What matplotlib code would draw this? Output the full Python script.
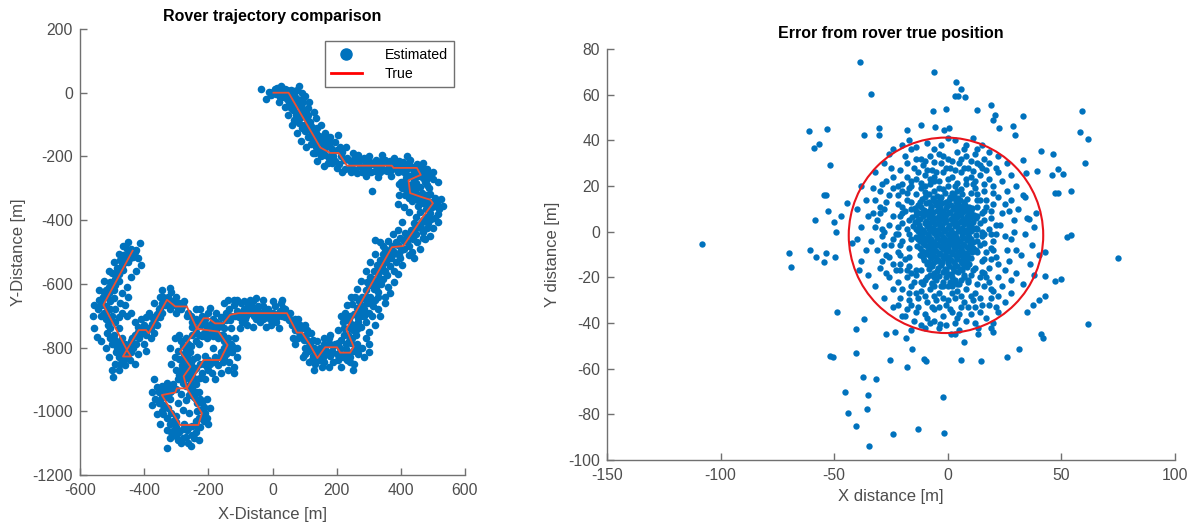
import numpy as np
import matplotlib
matplotlib.use("Agg")
import matplotlib.pyplot as plt
from matplotlib.patches import Circle
from matplotlib.lines import Line2D

plt.rcParams['font.family'] = ['Liberation Sans', 'DejaVu Sans']
plt.rcParams['axes.unicode_minus'] = False

BLUE = '#0072BD'
GRAY = '#4D4D4D'

# ---------------- Left panel data ----------------
true_x = [3, 50, 149, 180, 206, 232, 372, 377, 450, 462, 424, 429, 466, 492, 500, 466, 408, 372,
          230, 253, 242, 211, 201, 164, 140, 117, 92, 76, 45, -106, -132, -153, -179, -200, -215,
          -236, -168, -140, -163, -215, -267, -298, -303, -345, -288, -231, -220, -267, -277, -256,
          -288, -260, -236, -267, -303, -329, -386, -394, -417, -454, -466, -441, -454, -527, -436]
true_y = [0, 0, -172, -189, -189, -229, -229, -236, -236, -258, -275, -315, -328, -336, -347, -394,
          -481, -485, -742, -797, -816, -816, -799, -799, -833, -792, -753, -753, -692, -692, -697,
          -724, -724, -708, -708, -741, -750, -792, -839, -839, -928, -928, -941, -949, -1043, -1043,
          -1006, -928, -890, -860, -813, -775, -741, -671, -671, -650, -755, -745, -745, -807, -828,
          -828, -807, -666, -496]

est_ne1 = [(-35, 12), (-5, -8), (2, 3), (10, -5), (18, 8), (24, -12), (33, 2), (40, 12), (50, -4), (58, 8),
           (82, 22), (68, -5), (44, -20), (52, -30), (60, -22), (70, -40), (78, -30), (64, -55), (85, -58),
           (96, -30), (72, -70), (90, -75), (100, -55), (110, -48), (84, -95), (98, -100), (106, -80),
           (118, -92), (128, -60), (102, -120), (116, -118), (124, -108), (136, -125), (110, -140),
           (130, -145), (142, -150), (120, -160), (150, -140), (158, -160), (136, -170), (148, -182),
           (160, -178), (170, -165), (165, -195), (182, -175), (190, -200), (176, -205), (200, -180),
           (210, -170), (195, -215), (215, -200), (224, -210), (208, -225), (225, -240), (240, -215),
           (203, -132), (30, -14), (14, 14), (56, -12), (74, -18), (88, -44), (62, -38), (94, -64),
           (112, -70), (104, -104), (122, -130), (140, -110), (154, -192), (186, -190), (218, -186),
           (8, 12), (-12, 2), (36, -6), (46, 8), (28, 20), (66, 4), (76, 10), (92, 0), (86, -22), (58, -48),
           (80, -84), (66, -86), (92, -112), (126, -150), (112, -100), (144, -135), (134, -190), (162, -145),
           (180, -155), (150, -200), (172, -220), (200, -235), (186, -222), (218, -250), (232, -205), (246, -250)]
est_ne2 = [(240, -235), (250, -222), (258, -244), (266, -218), (274, -230), (282, -240), (290, -220),
           (298, -232), (306, -248), (314, -224), (322, -212), (330, -236), (338, -226), (346, -244),
           (354, -218), (362, -232), (370, -242), (378, -222), (386, -236), (394, -214), (402, -246),
           (410, -228), (418, -240), (426, -220), (434, -232), (442, -250), (450, -224), (458, -244),
           (466, -232), (474, -252), (480, -240), (262, -252), (286, -206), (318, -246), (350, -210),
           (398, -230), (430, -212), (446, -236), (270, -214), (302, -214), (334, -250), (366, -214),
           (414, -252), (438, -238), (310, -310), (255, -208), (280, -250), (296, -250), (326, -222),
           (342, -210), (358, -246), (374, -230), (390, -250), (406, -218), (422, -230), (454, -256),
           (470, -222), (486, -252), (490, -262), (478, -275)]
est_e = [(470, -268), (455, -262), (440, -270), (428, -262), (412, -280), (420, -290), (436, -288),
         (448, -282), (405, -300), (418, -305), (430, -300), (444, -310), (412, -320), (426, -330),
         (440, -322), (452, -336), (465, -316), (478, -322), (490, -318), (505, -330), (470, -345),
         (485, -350), (498, -360), (512, -345), (520, -365), (478, -365), (492, -378), (505, -392),
         (455, -355), (460, -375), (448, -390), (470, -400), (485, -410), (440, -410), (455, -420),
         (432, -432), (448, -445), (470, -438), (420, -450), (438, -460), (410, -465), (425, -480),
         (400, -495), (385, -470), (360, -465), (345, -480), (395, -510), (380, -500), (365, -495),
         (500, -270), (480, -290), (395, -285), (488, -300), (515, -380), (475, -460), (450, -470),
         (435, -500), (400, -280), (403, -407), (320, -462), (335, -470), (390, -430), (375, -445),
         (460, -295), (474, -280), (496, -342), (462, -410), (418, -470), (415, -268), (408, -290),
         (424, -315), (434, -340), (446, -298), (458, -325), (470, -330), (482, -338), (508, -355),
         (494, -395), (478, -390), (462, -425), (444, -425), (428, -445), (412, -440), (396, -455),
         (410, -490), (390, -478), (372, -480), (352, -490), (482, -425), (468, -455)]
est_se = [(360, -500), (345, -505), (370, -520), (355, -530), (335, -525), (340, -548), (325, -540),
          (365, -545), (350, -560), (330, -570), (315, -560), (345, -585), (320, -590), (305, -580),
          (338, -600), (300, -605), (315, -615), (290, -620), (328, -625), (305, -640), (280, -640),
          (318, -650), (295, -660), (270, -655), (285, -680), (262, -675), (300, -690), (275, -700),
          (255, -695), (240, -700), (265, -720), (245, -725), (230, -715), (250, -745), (235, -760),
          (222, -740), (260, -760), (275, -735), (290, -720), (310, -700), (330, -680), (350, -640),
          (360, -610), (380, -560), (385, -530), (398, -520), (258, -640), (248, -662), (226, -690),
          (220, -720), (238, -780), (352, -515), (312, -585), (296, -640), (270, -690), (242, -740),
          (375, -505), (362, -518), (342, -532), (328, -552), (358, -572), (334, -585), (318, -600),
          (295, -595), (330, -640), (312, -668), (288, -648), (278, -668), (268, -708), (255, -730),
          (238, -710), (222, -760), (262, -742), (248, -770), (285, -700), (302, -660), (322, -612),
          (346, -560)]
est_s = [(262, -790), (250, -810), (268, -820), (240, -830), (255, -850), (228, -805), (220, -830),
         (210, -800), (195, -790), (200, -820), (185, -810), (175, -785), (160, -790), (170, -815),
         (150, -815), (145, -840), (132, -850), (155, -860), (125, -825), (138, -810), (120, -805),
         (110, -780), (100, -800), (125, -775), (105, -760), (92, -740), (80, -770), (70, -745),
         (85, -730), (60, -730), (50, -715), (70, -710), (40, -705), (55, -690), (90, -765),
         (300, -790), (280, -800), (190, -845), (175, -770), (215, -775), (245, -785), (115, -845),
         (65, -770), (232, -818), (148, -800), (112, -810), (258, -805), (242, -845), (230, -790),
         (215, -820), (205, -840), (188, -795), (180, -825), (165, -800), (158, -830), (140, -825),
         (130, -800), (118, -790), (98, -775), (108, -745), (84, -752), (75, -728), (62, -712),
         (48, -700), (36, -690), (100, -820), (122, -840), (162, -845), (205, -785), (270, -805),
         (232, -840)]
est_w1 = [(40, -680), (30, -700), (22, -685), (15, -705), (8, -670), (0, -690), (-8, -710), (-15, -680),
          (-22, -695), (-30, -670), (-38, -700), (-45, -685), (-52, -710), (-60, -675), (-68, -690),
          (-75, -665), (-82, -700), (-90, -680), (-98, -660), (-105, -705), (-112, -685), (-120, -665),
          (-128, -700), (-136, -680), (-88, -655), (-70, -652), (-120, -650), (-5, -730), (-40, -720),
          (-95, -720), (10, -720), (25, -660), (-150, -660), (-142, -700), (-56, -694), (-26, -706),
          (34, -676), (18, -696), (4, -702), (-12, -698), (-28, -688), (-44, -670), (-58, -700),
          (-74, -682), (-86, -710), (-102, -690), (-116, -700), (-132, -715), (-146, -690),
          (-60, -655), (-110, -650), (-30, -710), (-80, -675)]
est_w2 = [(-145, -715), (-160, -705), (-150, -740), (-170, -735), (-185, -710), (-190, -740), (-200, -690),
          (-210, -725), (-220, -700), (-228, -720), (-240, -710), (-245, -735), (-230, -760), (-215, -755),
          (-200, -760), (-185, -765), (-170, -770), (-155, -760), (-140, -770), (-130, -790), (-150, -800),
          (-125, -815), (-145, -820), (-160, -815), (-135, -845), (-155, -845), (-170, -855), (-180, -830),
          (-195, -850), (-210, -825), (-225, -850), (-205, -860), (-235, -830), (-240, -865), (-220, -880),
          (-250, -885), (-235, -900), (-255, -910), (-120, -860), (-118, -770), (-128, -740), (-175, -690),
          (-195, -675), (-225, -680), (-160, -880), (-190, -880), (-185, -800), (-230, -790), (-165, -725),
          (-205, -740), (-180, -750), (-160, -730), (-176, -720), (-192, -725), (-210, -710), (-222, -730),
          (-238, -750), (-250, -735), (-140, -790), (-135, -805), (-150, -780), (-160, -760), (-175, -755),
          (-190, -755), (-205, -770), (-220, -765), (-240, -780), (-215, -850), (-200, -840), (-180, -845),
          (-165, -830), (-150, -835), (-140, -815), (-125, -795), (-245, -870), (-225, -895), (-240, -915),
          (-200, -870)]
est_w3 = [(-250, -760), (-270, -770), (-262, -790), (-280, -795), (-295, -810), (-275, -820), (-290, -835),
          (-268, -840), (-282, -855), (-260, -870), (-275, -875), (-290, -885), (-265, -895), (-280, -910),
          (-295, -900), (-300, -870), (-305, -830), (-248, -835), (-258, -815), (-285, -780),
          (-255, -795), (-270, -805), (-265, -825), (-280, -840), (-255, -850), (-270, -860), (-285, -870),
          (-270, -885), (-255, -895), (-285, -900), (-270, -920), (-250, -930), (-230, -940)]
est_hex = [(-310, -915), (-325, -925), (-340, -930), (-355, -940), (-335, -955), (-350, -965), (-320, -960),
           (-340, -980), (-325, -990), (-345, -1000), (-315, -1005), (-330, -1020), (-310, -1030),
           (-300, -1050), (-290, -1065), (-275, -1040), (-265, -1060), (-250, -1045), (-240, -1065),
           (-225, -1050), (-215, -1030), (-230, -1020), (-210, -1005), (-225, -995), (-215, -985),
           (-235, -975), (-225, -960), (-245, -955), (-240, -940), (-255, -935), (-250, -918), (-285, -945),
           (-270, -965), (-295, -975), (-280, -995), (-260, -1005), (-300, -1015), (-370, -900),
           (-330, -1115), (-262, -1100), (-278, -1085), (-300, -1078), (-285, -1100), (-245, -1085),
           (-360, -925), (-365, -960), (-235, -1000), (-318, -940), (-308, -1060), (-300, -930),
           (-315, -935), (-330, -945), (-345, -950), (-355, -975), (-340, -1010), (-320, -1040),
           (-300, -1035), (-280, -1055), (-260, -1050), (-235, -1045), (-215, -1015), (-205, -1020),
           (-220, -975), (-240, -960), (-260, -950), (-250, -1075), (-270, -1080), (-315, -1065),
           (-295, -1090), (-345, -920), (-330, -910), (-238, -1030)]
est_nw = [(-250, -720), (-255, -700), (-240, -680), (-262, -690), (-275, -655), (-285, -680), (-290, -660),
          (-300, -690), (-310, -655), (-318, -680), (-325, -640), (-335, -665), (-340, -640), (-345, -690),
          (-355, -680), (-350, -705), (-365, -710), (-360, -730), (-375, -725), (-370, -755), (-385, -740),
          (-380, -770), (-395, -760), (-400, -730), (-410, -755), (-420, -735), (-415, -770), (-430, -760),
          (-425, -790), (-440, -780), (-435, -800), (-448, -795), (-460, -790), (-450, -815), (-470, -810),
          (-462, -835), (-445, -840), (-480, -830), (-475, -850), (-500, -870), (-497, -891), (-485, -800),
          (-490, -775), (-470, -770), (-495, -760), (-480, -740), (-505, -740), (-490, -720), (-510, -715),
          (-500, -700), (-520, -690), (-535, -700), (-545, -680), (-556, -666), (-547, -766), (-530, -650),
          (-515, -640), (-525, -625), (-510, -610), (-495, -620), (-505, -595), (-490, -585), (-500, -565),
          (-480, -570), (-485, -550), (-470, -545), (-475, -525), (-460, -530), (-465, -510), (-450, -505),
          (-445, -520), (-440, -490), (-430, -500), (-414, -472), (-455, -490), (-320, -614), (-316, -624),
          (-300, -640), (-505, -655), (-470, -690), (-455, -700), (-480, -705), (-520, -670), (-512, -730),
          (-265, -700), (-280, -665), (-295, -675), (-305, -665), (-320, -660), (-330, -650), (-345, -660),
          (-350, -675), (-360, -695), (-375, -705), (-378, -740), (-392, -745), (-405, -740), (-418, -750),
          (-425, -760), (-438, -770), (-445, -790), (-458, -805), (-468, -820), (-452, -830), (-440, -815),
          (-470, -800), (-488, -815), (-478, -785), (-500, -790), (-505, -770), (-515, -755), (-520, -710),
          (-525, -690), (-535, -665), (-540, -650), (-528, -640), (-518, -620), (-510, -630), (-498, -600),
          (-492, -605), (-480, -590), (-488, -565), (-475, -560), (-465, -555), (-470, -535), (-455, -520),
          (-450, -530), (-440, -505), (-435, -515), (-425, -495), (-490, -680), (-475, -660), (-495, -645),
          (-505, -680), (-510, -830), (-490, -850), (-460, -855)]
est_wide = [(-20, -20), (20, -30), (38, -45), (48, -70), (60, -100), (75, -125), (90, -150), (105, -170),
            (125, -190), (140, -215), (160, -230), (100, -10), (115, -30), (135, -80), (150, -100),
            (165, -125), (178, -140), (195, -155), (230, -170), (250, -190),
            (265, -195), (300, -200), (340, -196), (380, -205), (420, -200), (290, -262), (330, -265),
            (370, -262), (500, -250), (515, -280),
            (395, -320), (390, -350), (410, -360), (425, -375), (525, -335), (530, -355), (515, -405),
            (500, -425), (490, -450), (460, -490), (440, -520), (425, -510),
            (405, -540), (392, -570), (378, -595), (365, -630), (350, -660), (335, -700), (318, -730),
            (300, -750), (290, -770), (320, -505), (305, -530), (290, -560), (275, -590), (262, -615),
            (245, -640), (232, -665), (215, -700), (205, -745),
            (180, -760), (160, -770), (140, -780), (120, -755), (100, -730), (80, -710), (70, -790),
            (95, -830), (130, -870), (175, -860), (215, -860), (250, -870), (285, -830), (300, -815),
            (30, -650), (0, -655), (-30, -650), (-50, -645), (20, -740), (-20, -735), (-60, -735),
            (-80, -730), (-100, -740), (-140, -650),
            (-110, -800), (-110, -830), (-120, -880), (-140, -870), (-180, -900), (-210, -900),
            (-315, -850), (-320, -800), (-305, -770), (-290, -760),
            (-375, -940), (-375, -980), (-360, -1010), (-350, -1040), (-330, -1060), (-320, -1085),
            (-200, -1040), (-195, -990), (-205, -960), (-230, -1090), (-255, -1110),
            (-560, -700), (-555, -740), (-540, -620), (-525, -590), (-510, -560), (-495, -530),
            (-480, -505), (-465, -480), (-450, -470), (-420, -520), (-410, -540), (-425, -560),
            (-440, -580), (-455, -610), (-470, -630), (-450, -640), (-460, -665), (-440, -690),
            (-430, -720), (-400, -790), (-395, -810), (-420, -820), (-430, -850), (-480, -870),
            (-520, -800), (-535, -780), (-350, -640), (-345, -620), (-370, -660), (-385, -690),
            (-395, -705), (-410, -710)]

# ---------------- Right panel data ----------------
err_outer = [(-38.8, 74.4), (-6.1, 70.0), (-33.8, 60.2), (3.8, 65.6), (5.6, 62.4), (3.0, 59.5), (4.3, 59.5),
             (7.4, 58.8), (-0.6, 53.9), (-6.5, 52.7), (12.9, 53.5), (19.0, 55.4), (20.8, 51.3), (19.9, 48.8),
             (33.3, 50.5), (58.9, 52.9), (22.7, 45.4), (28.5, 46.3), (29.4, 42.2), (58.0, 43.6), (61.7, 40.7),
             (60.2, 30.0), (41.0, 35.3), (46.5, 34.1), (48.3, 27.5), (50.7, 25.3), (45.7, 24.6), (33.3, 31.2),
             (39.1, 26.4), (34.2, 25.6), (47.0, 17.0), (48.3, 16.8), (54.2, 17.7), (34.0, 15.1), (35.9, 5.5),
             (52.3, -2.5), (54.2, -1.5), (42.8, -8.7), (42.8, -19.4), (49.8, -20.8), (47.4, -21.6),
             (61.7, -40.3), (41.0, -45.0), (41.9, -46.5), (31.4, -51.3), (26.0, -55.0), (14.4, -56.8),
             (5.6, -56.3), (7.1, -48.3), (3.0, -44.7), (-2.1, -72.2), (-1.5, -88.0), (-13.1, -86.4),
             (-24.1, -88.7), (-34.5, -93.8), (-35.4, -77.6), (-31.4, -64.5), (-37.3, -63.6), (-45.2, -70.0),
             (-35.1, -71.4), (-43.9, -79.2), (-40.6, -85.0), (-18.0, -59.3), (-25.4, -56.0), (-40.6, -53.1),
             (-52.0, -54.6), (-50.7, -54.8), (-15.8, -51.3), (-10.3, -55.7), (-9.4, -56.8), (-40.6, -42.5),
             (-36.9, -38.4), (-48.8, -35.1), (-27.2, -44.6), (-23.2, -44.0), (-18.2, -46.5), (-108.4, -5.5),
             (-69.9, -9.4), (-69.0, -15.3), (-60.7, -8.0), (-58.0, -11.0), (-53.4, -9.4), (-54.3, -13.5),
             (-49.7, -10.9), (-58.5, 5.2), (-52.9, 8.9), (-50.3, 4.1), (-49.2, 0.0), (-47.0, 7.0),
             (-54.3, 16.2), (-53.4, 15.9), (-61.1, 44.1), (-53.2, 45.0), (-58.9, 36.8), (-56.5, 38.2),
             (-52.0, 29.4), (-36.9, 42.3), (-30.1, 45.6), (-30.5, 42.3), (-18.0, 44.7), (-11.6, 46.7),
             (-5.6, 45.8), (-44.2, 12.7), (74.9, -11.6), (19.0, -42.4), (19.9, -43.9), (13.5, -42.4),
             (13.1, -45.0), (1.2, -44.6), (-3.4, -40.6), (0.5, 45.5), (-1.5, 44.5), (37.5, -32.0),
             (35.0, -35.0), (43.0, -28.0), (40.0, -30.0)]
err_ring = [(-24, 36), (-20, 38), (-14, 37), (-9, 39), (-3, 38), (3, 40), (8, 38), (13, 36), (18, 35), (22, 33),
            (26, 30), (-28, 30), (-32, 26), (-26, 34), (0, 41), (-17, 40), (11, 41), (28, 25), (30, 20),
            (33, 16), (31, 10), (35, 6), (38, 2), (34, -1), (37, -6), (32, -10), (36, -14), (30, -18),
            (33, -23), (28, -27), (25, -31), (38, -19), (40, -10), (39, 8), (29, 0), (22, -35), (17, -38),
            (12, -40), (8, -39), (3, -40), (-1, -41), (-6, -39), (-10, -42), (-15, -39), (-20, -37),
            (-24, -33), (-28, -29), (-16, -43), (5, -43), (20, -40), (-32, -24), (-35, -19), (-38, -13),
            (-36, -8), (-40, -3), (-38, 2), (-35, 7), (-40, 10), (-36, 14), (-33, 19), (-38, 20), (-30, -16),
            (-42, -5), (-39, -17)]
err_mid = [(-20, 18), (-16, 20), (-12, 19), (-8, 21), (-4, 19), (0, 20), (4, 18), (8, 21), (12, 19), (16, 18),
           (20, 20), (-18, 24), (-14, 23), (-10, 25), (-6, 24), (-2, 26), (2, 24), (6, 26), (10, 24), (14, 25),
           (18, 23), (-15, 28), (-11, 29), (-7, 27), (-3, 30), (1, 28), (5, 30), (9, 28), (13, 30), (17, 27),
           (22, 26), (-8, 33), (-4, 34), (0, 32), (4, 35), (8, 33), (12, 34), (-12, 32), (16, 32),
           (-18, -20), (-14, -19), (-10, -21), (-6, -20), (-2, -22), (2, -20), (6, -21), (10, -19), (14, -20),
           (18, -22), (-20, -25), (-16, -24), (-12, -26), (-8, -25), (-4, -27), (0, -24), (4, -26), (8, -25),
           (12, -27), (16, -24), (20, -26), (-17, -30), (-13, -29), (-9, -31), (-5, -30), (-1, -32), (3, -29),
           (7, -31), (11, -30), (15, -32), (19, -29), (-14, -35), (-10, -36), (-6, -34), (-2, -37), (2, -35),
           (6, -33), (10, -36), (-18, -34), (14, -35), (-8, -40), (-4, -42), (-12, -41),
           (-18, 14), (-22, 12), (-19, 9), (-24, 7), (-20, 4), (-26, 3), (-18, 1), (-23, -1), (-20, -4),
           (-25, -6), (-17, -7), (-22, -9), (-19, -12), (-24, -14), (-17, -15), (-28, 10), (-29, -2),
           (-27, -10), (-31, 5), (-32, 14), (-30, 18), (-26, 16), (-34, -4), (-33, 8),
           (14, 14), (17, 11), (15, 8), (19, 6), (14, 4), (18, 1), (15, -2), (20, -4), (14, -6), (17, -9),
           (21, -11), (15, -13), (18, -16), (22, -14), (24, 8), (22, 15), (25, -2), (26, -8), (23, 3), (25, 12)]
err_mid2 = [(-22, 16), (-18, 17), (-14, 16.5), (-10, 17.5), (-6, 18), (-2, 18.5), (2, 17), (6, 18.5), (10, 17),
            (13, 16.5), (-16, 22), (-12, 21.5), (-8, 23), (-4, 22), (0, 23), (4, 21.5), (8, 23), (12, 22),
            (16, 21), (-13, 26), (-9, 27), (-5, 26), (-1, 28), (3, 27), (7, 28), (11, 26.5), (15, 28),
            (-20, 21), (-24, 19), (-27, 22), (20, 17), (-21, -17), (-16, -18), (-12, -17), (-8, -19),
            (-4, -19.5), (0, -18.5), (3, -21), (7, -19), (11, -17), (15, -17.5), (-15, -22), (-11, -23),
            (-7, -22.5), (-3, -24), (1, -22), (5, -23), (9, -22), (13, -23), (17, -20), (-14, -27),
            (-10, -28), (-6, -28), (-2, -29), (2, -27), (6, -28), (10, -28), (-16, -32), (-7, -33), (1, -34),
            (-21, -14), (-17, -11), (-21, -6), (-16, -3), (-22, 2), (-17, 5), (-21, 7), (-16, 10), (-20, 11),
            (-24, -3), (-26, -11), (-23, -17), (13, 11), (16, 9), (13, 7), (16, 5), (13, 1), (16, -1),
            (13, -4), (16, -5), (13, -9), (16, -12), (20, -8), (19, -1), (21, 3), (20, 12), (-26, -20),
            (-22, -22), (22, -20), (19, -25), (-30, 8), (-29, 1), (-28, -6)]
err_mid3 = [(-24, 24), (-21, 27), (-18, 30), (-14, 32), (-10, 31), (-6, 30.5), (-2, 33), (2, 31), (6, 32),
            (10, 31), (14, 29), (18, 30), (21, 28), (24, 22), (26, 18), (28, 14), (27, 9), (29, 5), (28, -3),
            (30, -8), (27, -13), (25, -17), (28, -21), (24, -24), (22, -28), (18, -32), (14, -29), (9, -33),
            (5, -36), (0, -30), (-4, -33), (-9, -38), (-13, -33), (-17, -27), (-21, -29), (-24, -25),
            (-27, -18), (-29, -13), (-31, -8), (-28, 0), (-32, 2), (-30, 11), (-27, 13), (-29, 21), (-25, 28),
            (-19, 33), (-16, 36), (-6, 36), (7, 36), (15, 38), (-22, -32), (-19, -37), (4, -38), (12, -33),
            (21, -33), (-22, 20), (-17, 19), (-10, 20), (-6, 22), (3, 20), (11, 21), (17, 14), (19, 9),
            (21, -1), (19, -7), (19, -12), (16, -18), (9, -21), (2, -24), (-6, -24), (-12, -22), (-18, -17),
            (-21, -10), (-22, -1), (-20, 8), (-16, 13), (-14, -17), (12, -16), (13, 14), (-17, -1), (15, 0),
            (-9, -20), (-5, -21), (-1, -20), (3, -22), (7, -20), (-7, -23), (-2, -24), (4, -23)]
err_core = [(-8.3, 16.4), (-4.6, 15.7), (-1.2, 16.8), (2.7, 15.9), (6.4, 16.5),
            (-11.4, 14.2), (-6.2, 13.6), (-3.3, 14.5), (0.4, 13.8), (2.2, 14.6), (5.3, 13.7), (8.6, 14.3),
            (-13.2, 11.6), (-9.4, 12.4), (-5.3, 11.8), (-2.4, 12.5), (1.2, 11.7), (4.3, 12.3), (7.4, 11.6),
            (-14.6, 10.2), (-10.3, 9.7), (-7.2, 10.4), (-4.4, 9.6), (-0.8, 10.3), (2.3, 9.8), (5.4, 10.4), (8.2, 9.7), (10.6, 10.3),
            (-12.7, 8.2), (-9.3, 7.7), (-6.4, 8.4), (-3.2, 7.8), (0.3, 8.3), (3.4, 7.6), (6.2, 8.4), (9.3, 7.8),
            (-15.8, 6.3), (-12.2, 5.7), (-8.4, 6.4), (-5.2, 5.8), (-2.3, 6.2), (1.3, 5.7), (4.2, 6.3), (7.3, 5.6), (10.2, 6.4), (12.6, 5.8),
            (-14.3, 4.2), (-10.2, 3.7), (-7.4, 4.3), (-4.2, 3.6), (-1.3, 4.4), (2.2, 3.8), (5.3, 4.2), (8.4, 3.7), (11.2, 4.4),
            (-15.2, 2.3), (-12.4, 1.6), (-9.2, 2.4), (-6.3, 1.7), (-3.4, 2.2), (0.2, 1.8), (3.3, 2.4), (6.2, 1.6), (9.4, 2.2), (12.3, 1.7),
            (-13.3, 0.2), (-10.4, -0.3), (-7.2, 0.4), (-4.3, -0.2), (-1.2, 0.3), (2.3, -0.4), (4.4, 0.2), (7.2, -0.3), (10.3, 0.4),
            (-14.2, -2.3), (-11.3, -1.7), (-8.4, -2.2), (-5.2, -1.6), (-2.3, -2.4), (1.2, -1.8), (3.4, -2.3), (6.3, -1.7), (9.2, -2.2), (12.4, -1.6),
            (-12.3, -4.2), (-9.4, -3.7), (-6.2, -4.4), (-3.3, -3.6), (0.2, -4.3), (2.4, -3.7), (5.2, -4.2), (8.3, -3.8), (11.2, -4.4),
            (-13.4, -6.2), (-10.2, -5.7), (-7.3, -6.4), (-4.2, -5.8), (-1.3, -6.3), (1.4, -5.6), (4.3, -6.2), (7.2, -5.7), (10.4, -6.3),
            (-11.2, -8.3), (-8.3, -7.7), (-5.4, -8.4), (-2.2, -7.6), (0.3, -8.2), (3.2, -7.8), (6.4, -8.3), (9.3, -7.6), (12.2, -8.2),
            (-12.4, -10.2), (-9.2, -9.7), (-6.3, -10.4), (-3.4, -9.8), (-1.2, -10.3), (2.2, -9.6), (5.3, -10.2), (8.4, -9.7),
            (-10.3, -12.3), (-7.2, -11.7), (-4.3, -12.4), (-1.4, -11.6), (1.3, -12.2), (4.2, -11.8), (7.4, -12.3), (10.2, -11.7),
            (-9.2, -14.2), (-6.4, -13.7), (-3.2, -14.3), (0.3, -13.6), (3.2, -14.4), (6.3, -13.8), (9.2, -14.2),
            (-8.3, -16.3), (-4.2, -15.7), (-1.3, -16.4), (2.4, -15.8), (5.2, -16.2), (8.3, -15.6),
            (-6.2, -18.3), (-2.3, -17.7), (1.2, -18.4), (4.3, -17.6)]
err_core2 = [(-10.1, 15.2), (-6.4, 14.8), (-2.9, 15.3), (1.1, 15.1), (4.6, 14.9),
             (-12.2, 13.1), (-8.1, 12.8), (-4.4, 13.2), (-0.9, 12.9), (3.6, 13.1), (7.1, 12.8),
             (-11.6, 10.9), (-7.4, 11.1), (-3.6, 10.8), (-0.4, 11.2), (3.1, 10.9), (6.2, 11.1), (9.4, 10.8),
             (-13.9, 9.1), (-11.1, 8.8), (-8.1, 9.2), (-4.9, 8.9), (-1.9, 9.1), (1.1, 8.8), (4.1, 9.2), (7.2, 8.9), (10.1, 9.1),
             (-14.1, 7.1), (-10.9, 6.8), (-7.1, 7.2), (-3.9, 6.9), (-0.9, 7.1), (2.1, 6.8), (5.6, 7.2), (8.6, 6.9), (11.4, 7.1),
             (-13.1, 5.1), (-9.6, 4.8), (-6.6, 5.2), (-3.4, 4.9), (-0.6, 5.1), (3.1, 4.8), (6.1, 5.2), (9.1, 4.9),
             (-12.6, 3.1), (-8.4, 2.8), (-5.6, 3.2), (-2.6, 2.9), (0.6, 3.1), (4.1, 2.8), (7.1, 3.2), (10.1, 2.9),
             (-13.9, 1.1), (-11.1, 0.8), (-8.1, 1.2), (-4.9, 0.9), (-2.1, 1.1), (1.6, 0.8), (5.1, 1.2), (8.1, 0.9), (11.1, 1.1),
             (-12.1, -0.9), (-8.9, -1.2), (-6.1, -0.8), (-2.9, -1.1), (0.1, -0.9), (3.1, -1.2), (6.1, -0.8), (9.1, -1.1),
             (-13.1, -3.1), (-10.6, -2.8), (-7.4, -3.2), (-4.6, -2.9), (-1.4, -3.1), (1.1, -2.8), (4.1, -3.2), (7.1, -2.9), (10.1, -3.1),
             (-11.1, -5.1), (-7.9, -4.8), (-5.1, -5.2), (-1.9, -4.9), (0.6, -5.1), (3.6, -4.8), (6.6, -5.2), (9.6, -4.9),
             (-12.1, -7.1), (-8.9, -6.8), (-6.1, -7.2), (-2.9, -6.9), (0.1, -7.1), (2.6, -6.8), (5.6, -7.2), (8.6, -6.9), (11.1, -7.1),
             (-9.9, -9.1), (-7.1, -8.8), (-3.9, -9.2), (-0.9, -8.9), (1.6, -9.1), (4.6, -8.8), (7.6, -9.2), (10.6, -8.9),
             (-10.9, -11.1), (-7.9, -10.8), (-5.1, -11.2), (-1.9, -10.9), (0.6, -11.1), (3.6, -10.8), (6.6, -11.2), (9.1, -10.9),
             (-8.9, -13.1), (-5.4, -12.8), (-2.6, -13.2), (0.1, -12.9), (2.6, -13.1), (5.6, -12.8), (8.6, -13.2),
             (-7.1, -15.1), (-2.9, -14.8), (0.6, -15.2), (4.1, -14.9), (7.1, -15.1),
             (-4.9, -17.1), (-0.9, -16.8), (2.6, -17.2), (6.1, -16.9)]

circle_center = (-0.8, -1.6)
circle_radius = 42.8

# ---------------- Figure ----------------
fig = plt.figure(figsize=(11.98, 5.26), dpi=100)
ax1 = fig.add_axes([80 / 1198, 1 - 475 / 526, 385 / 1198, 446 / 526])
ax2 = fig.add_axes([607 / 1198, 1 - 460 / 526, 568 / 1198, 411 / 526])

left_pts = np.array(est_ne1 + est_ne2 + est_e + est_se + est_s + est_w1 + est_w2 + est_w3 + est_hex
                    + est_nw + est_wide)
ax1.scatter(left_pts[:, 0], left_pts[:, 1], s=30, color=BLUE, linewidths=0, zorder=2)
ax1.plot(true_x, true_y, color='#EE5030', lw=1.3, zorder=3)

ax1.set_xlim(-600, 600)
ax1.set_ylim(-1200, 200)
ax1.set_xticks(np.arange(-600, 601, 200))
ax1.set_yticks(np.arange(-1200, 201, 200))

right_pts = np.array(err_outer + err_ring + err_mid + err_mid2 + err_mid3 + err_core + err_core2, dtype=float)
ax2.scatter(right_pts[:, 0], right_pts[:, 1], s=21, color=BLUE, linewidths=0, zorder=2)
ax2.add_patch(Circle(circle_center, circle_radius, fill=False, edgecolor='#E8141C', lw=1.5, zorder=3))
ax2.set_xlim(-150, 100)
ax2.set_ylim(-100, 80)
ax2.set_xticks(np.arange(-150, 101, 50))
ax2.set_yticks(np.arange(-100, 81, 20))

for ax in (ax1, ax2):
    for side in ('top', 'right'):
        ax.spines[side].set_visible(False)
    for side in ('left', 'bottom'):
        ax.spines[side].set_color('#707070')
        ax.spines[side].set_linewidth(1.0)
    ax.tick_params(direction='in', length=5, width=1.0, color='#707070',
                   labelsize=11.3, labelcolor=GRAY)
    ax.tick_params(axis='x', pad=6)
    ax.tick_params(axis='y', pad=5)

ax1.set_title('Rover trajectory comparison', fontsize=11.5, fontweight='bold', pad=6)
ax1.set_xlabel('X-Distance [m]', fontsize=12, color=GRAY)
ax1.set_ylabel('Y-Distance [m]', fontsize=12, color=GRAY)
ax1.xaxis.set_label_coords(0.5, -0.072)
ax1.yaxis.set_label_coords(-0.14, 0.5)

ax2.set_title('Error from rover true position', fontsize=11.5, fontweight='bold', pad=8)
ax2.set_xlabel('X distance [m]', fontsize=12, color=GRAY)
ax2.set_ylabel('Y distance [m]', fontsize=12, color=GRAY)
ax2.xaxis.set_label_coords(0.5, -0.07)
ax2.yaxis.set_label_coords(-0.082, 0.5)

handles = [Line2D([], [], ls='none', marker='o', markersize=8, color=BLUE),
           Line2D([], [], color='#FF0000', lw=2)]
leg = ax1.legend(handles, ['Estimated', 'True'], loc='upper right', bbox_to_anchor=(0.972, 0.972),
                 borderaxespad=0, fancybox=False, framealpha=1, edgecolor='#707070', fontsize=10.2,
                 handlelength=2.2, handletextpad=1.6, borderpad=0.45, labelspacing=0.35)
leg.get_frame().set_linewidth(1.0)

fig.savefig('out.png', dpi=100)
